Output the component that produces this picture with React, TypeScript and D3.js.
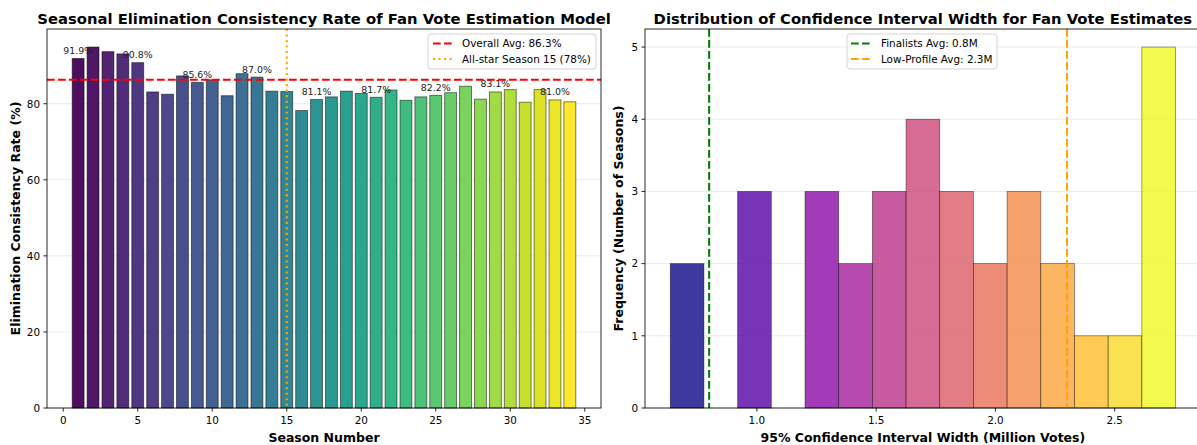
import React from 'react';
import * as d3 from 'd3';

// ---------- Left chart data ----------
const seasons = [1, 2, 3, 4, 5, 6, 7, 8, 9, 10, 11, 12, 13, 14, 15, 16, 17, 18, 19, 20, 21, 22, 23, 24, 25, 26, 27, 28, 29, 30, 31, 32, 33, 34];
const consistencyRates = [91.9, 94.9, 93.7, 93.1, 90.8, 83.1, 82.5, 87.3, 85.6, 86.3, 82.1, 87.9, 87.0, 83.3, 83.2, 78.2, 81.1, 81.8, 83.3, 82.7, 81.7, 83.6, 80.9, 81.8, 82.2, 82.9, 84.6, 81.2, 83.1, 83.7, 80.4, 83.7, 81.0, 80.5];
const labeledSeasons = [1, 5, 9, 13, 17, 21, 25, 29, 33];
const overallAvg = 86.3;
const allStarSeason = 15;
const leftXTicks = [0, 5, 10, 15, 20, 25, 30, 35];
const leftYTicks = [0, 20, 40, 60, 80];

// ---------- Right chart data ----------
const binCounts = [2, 0, 3, 0, 3, 2, 3, 4, 3, 2, 3, 2, 1, 1, 5];
const binMin = 0.637;
const binMax = 2.755;
const finalistsAvg = 0.8;
const lowProfileAvg = 2.3;
const rightXTicks = [1.0, 1.5, 2.0, 2.5];
const rightYTicks = [0, 1, 2, 3, 4, 5];

const FONT = '"DejaVu Sans", sans-serif';
const TICK = 10.4;

export default function App() {
  const L = { left: 47, right: 601, top: 29, bottom: 408 };
  const R = { left: 645, right: 1200.8, top: 29, bottom: 408 };

  const barW = 0.8;
  const lxMin = seasons[0] - barW / 2;
  const lxMax = seasons[seasons.length - 1] + barW / 2;
  const lm = (lxMax - lxMin) * 0.05;
  const lx = d3.scaleLinear().domain([lxMin - lm, lxMax + lm]).range([L.left, L.right]);
  const lyMax = d3.max(consistencyRates)! * 1.05;
  const ly = d3.scaleLinear().domain([0, lyMax]).range([L.bottom, L.top]);
  const viridisColor = (i: number) => d3.interpolateViridis(i / (seasons.length - 1));

  const nb = binCounts.length;
  const bw = (binMax - binMin) / nb;
  const rm = (binMax - binMin) * 0.05;
  const rx = d3.scaleLinear().domain([binMin - rm, binMax + rm]).range([R.left, R.right]);
  const ryMax = d3.max(binCounts)! * 1.05;
  const ry = d3.scaleLinear().domain([0, ryMax]).range([R.bottom, R.top]);
  const plasmaColor = (i: number) => d3.interpolatePlasma(i / (nb - 1));

  const gridColor = '#b0b0b0';
  const rCenter = (R.left + R.right) / 2;

  return (
    <svg width={1197} height={445} style={{ position: 'absolute', left: 0, top: 0, background: '#fff' }} fontFamily={FONT}>
      <rect x={0} y={0} width={1197} height={445} fill="#fff" />
      {/* ================= LEFT ================= */}
      <g>
        {leftYTicks.map((t) => (
          <line key={'lg' + t} x1={L.left} x2={L.right} y1={ly(t)} y2={ly(t)} stroke={gridColor} strokeOpacity={0.3} strokeWidth={0.83} />
        ))}
        {seasons.map((s, i) => (
          <rect
            key={'b' + s}
            x={lx(s - barW / 2)}
            width={lx(s + barW / 2) - lx(s - barW / 2)}
            y={ly(consistencyRates[i])}
            height={ly(0) - ly(consistencyRates[i])}
            fill={viridisColor(i)}
            fillOpacity={0.95}
            stroke="#000"
            strokeOpacity={0.55}
            strokeWidth={0.9}
          />
        ))}
        {seasons.map((s, i) =>
          labeledSeasons.includes(s) ? (
            <text key={'bl' + s} x={lx(s)} y={ly(consistencyRates[i]) - 4.5} textAnchor="middle" fontSize={9.4} fill="#222">
              {consistencyRates[i].toFixed(1)}%
            </text>
          ) : null
        )}
        <line x1={L.left} x2={L.right} y1={ly(overallAvg)} y2={ly(overallAvg)} stroke="red" strokeWidth={2.08} strokeDasharray="7.7,3.3" />
        <line x1={lx(allStarSeason)} x2={lx(allStarSeason)} y1={L.top} y2={L.bottom} stroke="orange" strokeWidth={2.08} strokeDasharray="2.08,3.43" />
        <rect x={L.left} y={L.top} width={L.right - L.left} height={L.bottom - L.top} fill="none" stroke="#000" strokeWidth={0.83} />
        {leftXTicks.map((t) => (
          <g key={'lxt' + t}>
            <line x1={lx(t)} x2={lx(t)} y1={L.bottom} y2={L.bottom + 3.6} stroke="#000" strokeWidth={0.83} />
            <text x={lx(t)} y={L.bottom + 16} textAnchor="middle" fontSize={TICK} fill="#000">{t}</text>
          </g>
        ))}
        {leftYTicks.map((t) => (
          <g key={'lyt' + t}>
            <line x1={L.left - 3.6} x2={L.left} y1={ly(t)} y2={ly(t)} stroke="#000" strokeWidth={0.83} />
            <text x={L.left - 7} y={ly(t) + 3.8} textAnchor="end" fontSize={TICK} fill="#000">{t}</text>
          </g>
        ))}
        <text x={(L.left + L.right) / 2} y={442} textAnchor="middle" fontSize={12.5} fontWeight="bold">Season Number</text>
        <text transform={`translate(20,${(L.top + L.bottom) / 2}) rotate(-90)`} textAnchor="middle" fontSize={12.5} fontWeight="bold">
          Elimination Consistency Rate (%)
        </text>
        <text x={(L.left + L.right) / 2} y={24} textAnchor="middle" fontSize={14.8} fontWeight="bold">
          Seasonal Elimination Consistency Rate of Fan Vote Estimation Model
        </text>
        <g>
          <rect x={428} y={34} width={168} height={35} rx={3} fill="#fff" fillOpacity={0.8} stroke="#cccccc" strokeWidth={0.83} />
          <line x1={433} x2={453} y1={43.5} y2={43.5} stroke="red" strokeWidth={2.08} strokeDasharray="7.7,3.3" />
          <text x={462} y={47.2} fontSize={10.4}>Overall Avg: {overallAvg}%</text>
          <line x1={433} x2={453} y1={59} y2={59} stroke="orange" strokeWidth={2.08} strokeDasharray="2.08,3.43" />
          <text x={462} y={62.7} fontSize={10.4}>All-star Season {allStarSeason} (78%)</text>
        </g>
      </g>

      {/* ================= RIGHT ================= */}
      <g>
        {rightYTicks.map((t) => (
          <line key={'rg' + t} x1={R.left} x2={R.right} y1={ry(t)} y2={ry(t)} stroke={gridColor} strokeOpacity={0.3} strokeWidth={0.83} />
        ))}
        {binCounts.map((c, i) =>
          c > 0 ? (
            <rect
              key={'h' + i}
              x={rx(binMin + i * bw)}
              width={rx(binMin + (i + 1) * bw) - rx(binMin + i * bw)}
              y={ry(c)}
              height={ry(0) - ry(c)}
              fill={plasmaColor(i)}
              fillOpacity={0.8}
              stroke="#000"
              strokeOpacity={0.55}
              strokeWidth={0.7}
            />
          ) : null
        )}
        <line x1={rx(finalistsAvg)} x2={rx(finalistsAvg)} y1={R.top} y2={R.bottom} stroke="green" strokeWidth={2.08} strokeDasharray="7.7,3.3" />
        <line x1={rx(lowProfileAvg)} x2={rx(lowProfileAvg)} y1={R.top} y2={R.bottom} stroke="orange" strokeWidth={2.08} strokeDasharray="7.7,3.3" />
        <rect x={R.left} y={R.top} width={R.right - R.left} height={R.bottom - R.top} fill="none" stroke="#000" strokeWidth={0.83} />
        {rightXTicks.map((t) => (
          <g key={'rxt' + t}>
            <line x1={rx(t)} x2={rx(t)} y1={R.bottom} y2={R.bottom + 3.6} stroke="#000" strokeWidth={0.83} />
            <text x={rx(t)} y={R.bottom + 16} textAnchor="middle" fontSize={TICK} fill="#000">{t.toFixed(1)}</text>
          </g>
        ))}
        {rightYTicks.map((t) => (
          <g key={'ryt' + t}>
            <line x1={R.left - 3.6} x2={R.left} y1={ry(t)} y2={ry(t)} stroke="#000" strokeWidth={0.83} />
            <text x={R.left - 7} y={ry(t) + 3.8} textAnchor="end" fontSize={TICK} fill="#000">{t}</text>
          </g>
        ))}
        <text x={rCenter} y={442} textAnchor="middle" fontSize={12.5} fontWeight="bold">
          95% Confidence Interval Width (Million Votes)
        </text>
        <text transform={`translate(623,${(R.top + R.bottom) / 2}) rotate(-90)`} textAnchor="middle" fontSize={12.5} fontWeight="bold">
          Frequency (Number of Seasons)
        </text>
        <text x={rCenter} y={24} textAnchor="middle" fontSize={14.8} fontWeight="bold">
          Distribution of Confidence Interval Width for Fan Vote Estimates
        </text>
        <g>
          <rect x={847} y={34} width={150} height={35} rx={3} fill="#fff" fillOpacity={0.8} stroke="#cccccc" strokeWidth={0.83} />
          <line x1={851} x2={871} y1={43.5} y2={43.5} stroke="green" strokeWidth={2.08} strokeDasharray="7.7,3.3" />
          <text x={881} y={47.2} fontSize={10.4}>Finalists Avg: {finalistsAvg}M</text>
          <line x1={851} x2={871} y1={59} y2={59} stroke="orange" strokeWidth={2.08} strokeDasharray="7.7,3.3" />
          <text x={881} y={62.7} fontSize={10.4}>Low-Profile Avg: {lowProfileAvg}M</text>
        </g>
      </g>
    </svg>
  );
}
